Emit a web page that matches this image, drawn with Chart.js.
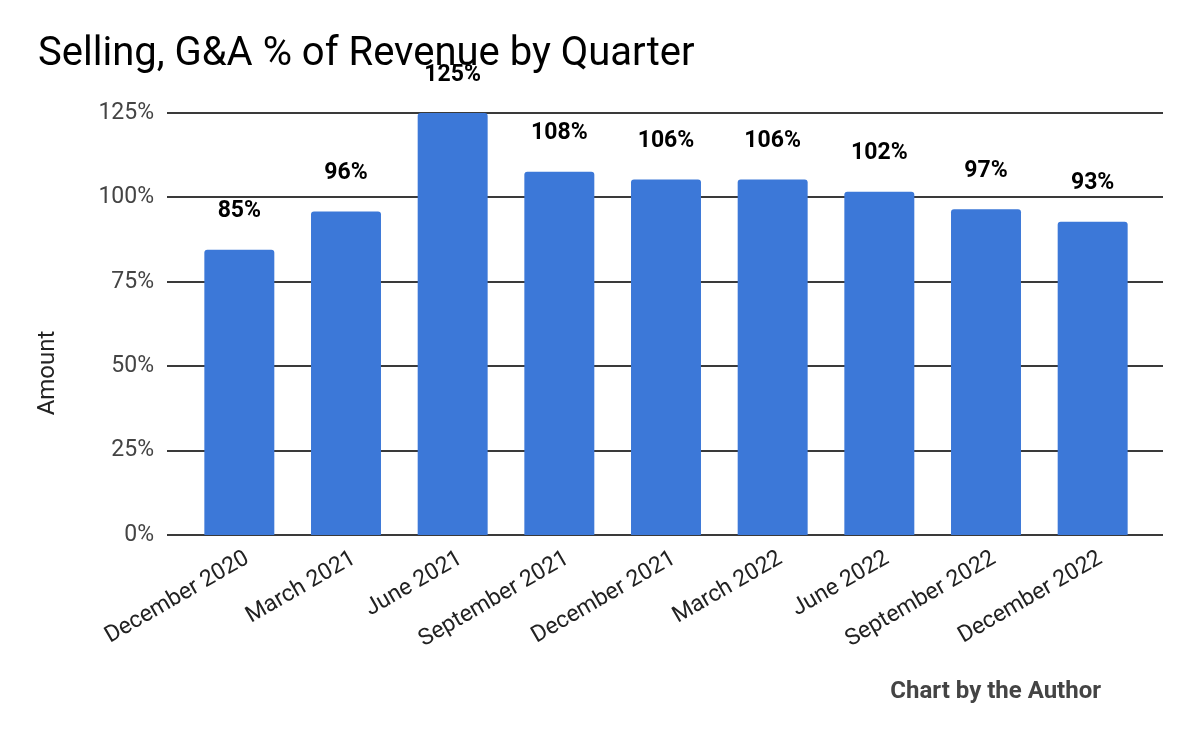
<!DOCTYPE html>
<html>
<head>
<meta charset="utf-8">
<script src="https://cdn.jsdelivr.net/npm/chart.js@4"></script>
<style>
  html, body { margin: 0; padding: 0; background: #fff; }
  #wrap { width: 1200px; height: 742px; }
</style>
</head>
<body>
<div id="wrap"><canvas id="chart" width="1200" height="742"></canvas></div>
<script>
// chart data
const quarters = [
  'December 2020', 'March 2021', 'June 2021', 'September 2021', 'December 2021',
  'March 2022', 'June 2022', 'September 2022', 'December 2022'
];
const sgaPct = [84.5, 95.8, 125, 107.6, 105.3, 105.3, 101.7, 96.5, 92.8];
const sgaLabels = ['85%', '96%', '125%', '108%', '106%', '106%', '102%', '97%', '93%'];
const yTicks = [0, 25, 50, 75, 100, 125];

const chartTitle = 'Selling, G&A % of Revenue by Quarter';
const yTitle = 'Amount';
const credit = 'Chart by the Author';

const barColor = '#3c78d8';
const gridColor = '#3a3a3a';

// draws the horizontal grid lines a bit wider than the plot, like the original
const gridPlugin = {
  id: 'wideGrid',
  beforeDatasetsDraw(chart) {
    const { ctx, chartArea } = chart;
    const y = chart.scales.y;
    ctx.save();
    ctx.strokeStyle = gridColor;
    ctx.lineWidth = 2;
    yTicks.forEach(v => {
      const py = Math.round(y.getPixelForValue(v));
      ctx.beginPath();
      ctx.moveTo(chartArea.left - 19, py);
      ctx.lineTo(chartArea.right + 17, py);
      ctx.stroke();
    });
    ctx.restore();
  }
};

// value labels above bars, y axis title, credit line
const textPlugin = {
  id: 'extraText',
  afterDatasetsDraw(chart) {
    const { ctx } = chart;
    const meta = chart.getDatasetMeta(0);
    ctx.save();
    ctx.fillStyle = '#000';
    ctx.font = 'bold 23px Roboto';
    ctx.textAlign = 'center';
    ctx.textBaseline = 'middle';
    meta.data.forEach((bar, i) => {
      ctx.fillText(sgaLabels[i], bar.x, bar.y - 38);
    });

    ctx.fillStyle = '#222';
    ctx.font = '24px Roboto';
    ctx.translate(48, 373);
    ctx.rotate(-Math.PI / 2);
    ctx.fillText(yTitle, 0, 0);
    ctx.restore();

    ctx.save();
    ctx.fillStyle = '#444';
    ctx.font = 'bold 24px Roboto';
    ctx.textAlign = 'right';
    ctx.textBaseline = 'middle';
    ctx.fillText(credit, 1101, 692);
    ctx.restore();
  }
};

new Chart(document.getElementById('chart'), {
  type: 'bar',
  data: {
    labels: quarters,
    datasets: [{
      label: 'SG&A %',
      data: sgaPct,
      backgroundColor: barColor,
      borderRadius: 3,
      borderSkipped: 'start',
      categoryPercentage: 1,
      barPercentage: 0.656
    }]
  },
  options: {
    responsive: false,
    animation: false,
    layout: { padding: { left: 38, right: 54, top: 0, bottom: 0 } },
    plugins: {
      legend: { display: false },
      tooltip: { enabled: false },
      title: {
        display: true,
        text: chartTitle,
        align: 'start',
        color: '#000',
        font: { family: 'Roboto', size: 40, weight: 'normal', lineHeight: 1.2 },
        padding: { top: 31, bottom: 34 }
      }
    },
    scales: {
      x: {
        grid: { display: false, drawTicks: false },
        border: { display: false },
        afterFit: s => { s.height = 207; },
        ticks: {
          autoSkip: false,
          minRotation: 30,
          maxRotation: 30,
          padding: 10,
          labelOffset: 8,
          color: '#222',
          font: { family: 'Roboto', size: 23 }
        }
      },
      y: {
        min: 0,
        max: 125,
        grid: { display: false, drawTicks: false },
        border: { display: false },
        afterFit: s => { s.width = 148; },
        ticks: {
          stepSize: 25,
          padding: 32,
          color: '#444',
          font: { family: 'Roboto', size: 23 },
          callback: v => v + '%'
        }
      }
    }
  },
  plugins: [gridPlugin, textPlugin]
});
</script>
</body>
</html>
